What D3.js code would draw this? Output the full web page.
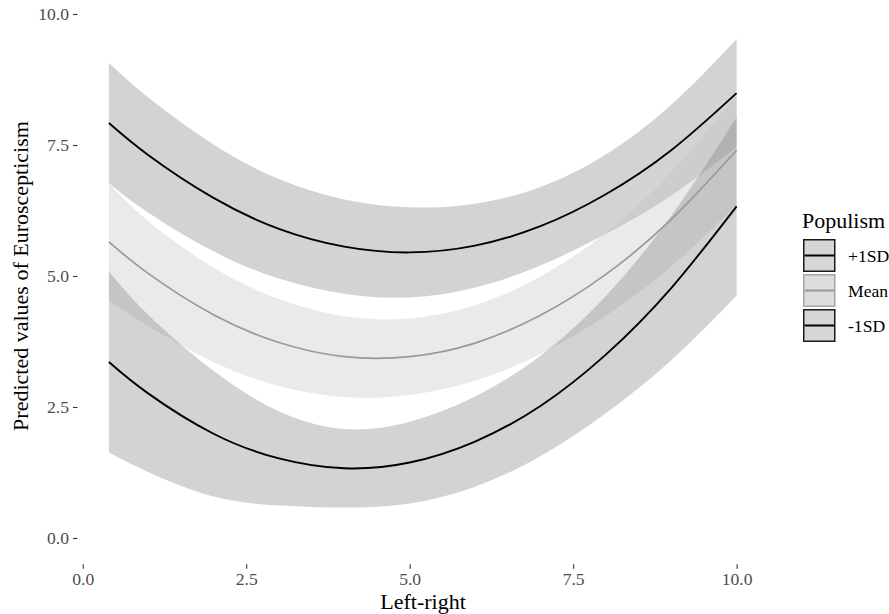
<!DOCTYPE html>
<html>
<head>
<meta charset="utf-8">
<script src="https://cdn.jsdelivr.net/npm/d3@7"></script>
<style>
  html, body { margin: 0; padding: 0; background: #fff; }
  svg { display: block; font-family: "Liberation Serif", "Times New Roman", serif; }
</style>
</head>
<body>
<svg id="chart" width="889" height="614"></svg>
<script>
// Left-right self-placement values where predictions are evaluated
const leftRight = [0.4, 1, 2, 3, 4, 5, 6, 7, 8, 9, 10];

// Predicted Euroscepticism, +1SD populism
const highFit = [7.92, 7.31, 6.49, 5.90, 5.56, 5.45, 5.58, 5.95, 6.56, 7.40, 8.49];
const highLo  = [6.77, 6.21, 5.47, 4.95, 4.66, 4.59, 4.78, 5.20, 5.80, 6.53, 7.46];
const highHi  = [9.07, 8.41, 7.51, 6.85, 6.46, 6.31, 6.38, 6.70, 7.32, 8.27, 9.52];

// Predicted Euroscepticism, mean populism
const meanFit = [5.65, 5.05, 4.26, 3.73, 3.46, 3.46, 3.72, 4.25, 5.03, 6.08, 7.40];
const meanLo  = [4.53, 4.05, 3.36, 2.90, 2.69, 2.73, 3.00, 3.51, 4.24, 5.18, 6.35];
const meanHi  = [6.77, 6.05, 5.16, 4.56, 4.23, 4.19, 4.44, 4.99, 5.82, 6.98, 8.45];

// Predicted Euroscepticism, -1SD populism
const lowFit = [3.36, 2.76, 1.99, 1.52, 1.33, 1.44, 1.84, 2.52, 3.50, 4.77, 6.33];
const lowLo  = [1.63, 1.26, 0.79, 0.62, 0.58, 0.66, 0.98, 1.56, 2.38, 3.39, 4.63];
const lowHi  = [5.09, 4.26, 3.19, 2.42, 2.08, 2.22, 2.70, 3.48, 4.62, 6.15, 8.03];

const groups = ["+1SD", "Mean", "-1SD"];
const xTicks = [0, 2.5, 5, 7.5, 10];
const yTicks = [0, 2.5, 5, 7.5, 10];

const serif = "'Liberation Serif', 'Times New Roman', serif";

const series = [
  { name: groups[0], fit: highFit, lo: highLo, hi: highHi, line: "#000000", width: 1.9, fill: "#808080", key: "#d6d6d6", border: "#1a1a1a" },
  { name: groups[1], fit: meanFit, lo: meanLo, hi: meanHi, line: "#999999", width: 1.7, fill: "#c4c4c4", key: "#dcdcdc", border: "#a6a6a6" },
  { name: groups[2], fit: lowFit,  lo: lowLo,  hi: lowHi,  line: "#000000", width: 1.9, fill: "#808080", key: "#d6d6d6", border: "#1a1a1a" }
];

const svg = d3.select("#chart");

const x = d3.scaleLinear().domain([-0.08, 10.48]).range([77.5, 768]);
const y = d3.scaleLinear().domain([-0.5, 10.5]).range([564.2, -12.2]);

const panel = svg.append("g");

// confidence ribbons
const area = d3.area()
  .x((d, i) => x(leftRight[i]))
  .y0(d => y(d[0]))
  .y1(d => y(d[1]))
  .curve(d3.curveNatural);

series.forEach(s => {
  const pts = leftRight.map((v, i) => [s.lo[i], s.hi[i]]);
  panel.append("path")
    .attr("d", area(pts))
    .attr("fill", s.fill)
    .attr("fill-opacity", 0.35)
    .attr("stroke", "none");
});

// predicted lines
const line = d3.line()
  .x((d, i) => x(leftRight[i]))
  .y(d => y(d))
  .curve(d3.curveNatural);

series.forEach(s => {
  panel.append("path")
    .attr("d", line(s.fit))
    .attr("fill", "none")
    .attr("stroke", s.line)
    .attr("stroke-width", s.width);
});

// axes: ticks only, no axis line
const xAxis = svg.append("g")
  .attr("transform", `translate(0,${y(-0.5)})`)
  .call(d3.axisBottom(x).tickValues(xTicks).tickFormat(d3.format(".1f")).tickSize(4.5).tickPadding(4));
const yAxis = svg.append("g")
  .attr("transform", `translate(${x(-0.08)},0)`)
  .call(d3.axisLeft(y).tickValues(yTicks).tickFormat(d3.format(".1f")).tickSize(4.5).tickPadding(4));

[xAxis, yAxis].forEach(g => {
  g.attr("font-family", serif).attr("font-size", 17.6);
  g.select(".domain").remove();
  g.selectAll(".tick line").attr("stroke", "#333333").attr("stroke-width", 1.1);
  g.selectAll(".tick text")
    .attr("fill", "#4d4d4d")
    .style("font-family", serif)
    .style("font-size", "17.6px");
});

// axis titles
svg.append("text")
  .attr("x", 423).attr("y", 609)
  .attr("text-anchor", "middle")
  .style("font-size", "22px")
  .attr("fill", "#000")
  .text("Left-right");

svg.append("text")
  .attr("transform", "translate(28,276) rotate(-90)")
  .attr("text-anchor", "middle")
  .style("font-size", "22px")
  .attr("fill", "#000")
  .text("Predicted values of Euroscepticism");

// legend
const legend = svg.append("g").attr("transform", "translate(803,0)");
legend.append("text")
  .attr("x", -1).attr("y", 228)
  .style("font-size", "22px")
  .attr("fill", "#000")
  .text("Populism");

const keyTop = [239, 274, 309];
series.forEach((s, i) => {
  const g = legend.append("g").attr("transform", `translate(0,${keyTop[i]})`);
  g.append("rect")
    .attr("x", 0.75).attr("y", 0.75)
    .attr("width", 31).attr("height", 31.5)
    .attr("fill", s.key)
    .attr("stroke", s.border)
    .attr("stroke-width", 1.5);
  g.append("line")
    .attr("x1", 1.5).attr("x2", 31)
    .attr("y1", 16.5).attr("y2", 16.5)
    .attr("stroke", s.line)
    .attr("stroke-width", 2);
  g.append("text")
    .attr("x", 45).attr("y", 16.5)
    .attr("dy", "0.35em")
    .style("font-size", "17.6px")
    .attr("fill", "#000")
    .text(s.name);
});
</script>
</body>
</html>
